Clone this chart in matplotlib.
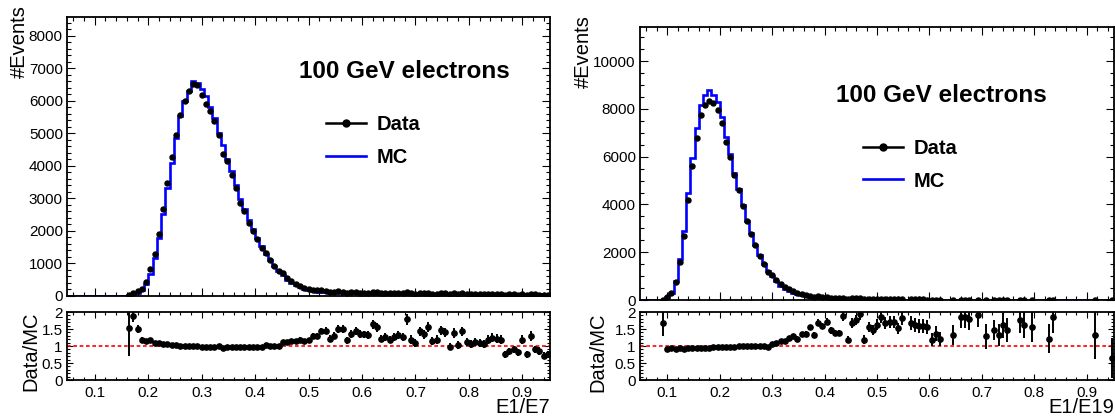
import numpy as np
import matplotlib
matplotlib.use("Agg")
import matplotlib.pyplot as plt
from matplotlib.lines import Line2D
from matplotlib.ticker import MultipleLocator, FormatStrFormatter

plt.rcParams["font.family"] = ["Liberation Sans", "DejaVu Sans"]

# Binning: 0.008 wide bins, the shown range is 0.048 - 0.952
BIN_LO = 0.048
BIN_HI = 0.952
N_BINS = 113

nan = np.nan

# E1/E7 (left) - MC counts per bin
mc_e7 = [
    0, 0, 0, 0, 0, 0, 0, 0, 0, 0,
    0, 0, 0, 10, 27, 42, 94, 188, 375, 690,
    1180, 1770, 2520, 3310, 4100, 4850, 5520, 5990, 6300, 6600,
    6540, 6380, 6150, 5800, 5480, 5000, 4650, 4220, 3850, 3420,
    2980, 2680, 2340, 2050, 1780, 1530, 1300, 1100, 920, 770,
    630, 500, 405, 330, 265, 215, 175, 148, 130, 118,
    108, 101, 96, 92, 88, 85, 82, 80, 78, 76,
    75, 73, 72, 71, 70, 69, 68, 68, 67, 66,
    66, 65, 64, 64, 63, 63, 62, 62, 61, 61,
    60, 60, 59, 59, 58, 58, 58, 57, 57, 57,
    56, 56, 56, 55, 55, 55, 54, 54, 54, 53,
    53, 53, 52,
]
# Data/MC ratio and its error
ratio_e7 = [
    nan, nan, nan, nan, nan, nan, nan, nan, nan, nan,
    nan, nan, nan, nan, 1.54, 1.89, 1.49, 1.19, 1.14, 1.19,
    1.09, 1.08, 1.06, 1.05, 1.04, 1.02, 1.01, 1.00, 1.00, 0.99,
    0.99, 0.97, 0.96, 0.98, 0.98, 0.99, 0.94, 0.98, 0.97, 0.97,
    0.96, 0.97, 0.96, 0.97, 0.98, 0.96, 1.02, 1.01, 1.01, 1.00,
    1.11, 1.12, 1.16, 1.16, 1.19, 1.14, 1.17, 1.29, 1.30, 1.45,
    1.45, 1.22, 1.30, 1.50, 1.50, 1.17, 1.36, 1.45, 1.36, 1.34,
    1.32, 1.64, 1.55, 1.22, 1.26, 1.19, 1.27, 1.33, 1.27, 1.78,
    1.19, 1.10, 1.43, 1.34, 1.56, 1.14, 1.19, 1.46, 1.40, 0.98,
    1.38, 1.02, 1.43, 1.12, 1.05, 1.12, 1.10, 1.05, 1.19, 1.24,
    1.22, 1.19, 0.76, 0.84, 0.90, 0.81, 1.19, 0.76, 1.29, 0.90,
    0.86, 0.71, 0.76,
]
ratio_err_e7 = [
    0, 0, 0, 0, 0, 0, 0, 0, 0, 0,
    0, 0, 0, 0, 0.84, 0.17, 0.12, 0.07, 0.05, 0.04,
    0.03, 0.03, 0.02, 0.02, 0.02, 0.02, 0.02, 0.02, 0.02, 0.02,
    0.02, 0.02, 0.02, 0.02, 0.02, 0.02, 0.02, 0.02, 0.02, 0.02,
    0.02, 0.02, 0.02, 0.02, 0.03, 0.03, 0.03, 0.03, 0.04, 0.04,
    0.05, 0.05, 0.06, 0.06, 0.07, 0.07, 0.08, 0.08, 0.09, 0.09,
    0.10, 0.10, 0.10, 0.11, 0.11, 0.10, 0.11, 0.12, 0.11, 0.11,
    0.11, 0.13, 0.13, 0.11, 0.12, 0.11, 0.12, 0.12, 0.12, 0.15,
    0.12, 0.12, 0.14, 0.13, 0.14, 0.12, 0.12, 0.14, 0.14, 0.11,
    0.14, 0.12, 0.14, 0.12, 0.12, 0.12, 0.12, 0.12, 0.13, 0.13,
    0.13, 0.13, 0.10, 0.11, 0.11, 0.11, 0.13, 0.10, 0.14, 0.11,
    0.11, 0.10, 0.10,
]

# E1/E19 (right)
mc_e19 = [
    0, 0, 0, 0, 0, 7, 120, 300, 800, 1700,
    2900, 4500, 5950, 7200, 8150, 8580, 8790, 8580, 8300, 7640,
    6830, 6100, 5320, 4650, 3960, 3300, 2800, 2300, 1880, 1520,
    1230, 1000, 780, 600, 480, 380, 300, 240, 190, 150,
    120, 100, 88, 78, 70, 63, 57, 52, 48, 44,
    41, 38, 35, 33, 31, 29, 27, 25, 24, 22,
    21, 20, 19, 18, 17, 16, 15, 14, 14, 13,
    12, 12, 11, 11, 10, 10, 9, 9, 9, 8,
    8, 8, 7, 7, 7, 6, 6, 6, 6, 5,
    5, 5, 5, 5, 4, 4, 4, 4, 4, 4,
    4, 3, 3, 3, 3, 3, 3, 3, 3, 3,
    3, 3, 3,
]
ratio_e19 = [
    nan, nan, nan, nan, nan, 1.68, 0.92, 0.93, 0.92, 0.93,
    0.92, 0.93, 0.94, 0.94, 0.95, 0.95, 0.95, 0.96, 0.96, 0.97,
    0.97, 0.98, 0.98, 0.99, 0.99, 1.00, 0.99, 1.00, 0.99, 1.00,
    0.97, 1.05, 1.08, 1.15, 1.16, 1.24, 1.29, 1.22, 1.35, 1.36,
    1.55, 1.33, 1.69, 1.60, 1.71, 1.46, 1.38, 1.38, 1.88, 1.19,
    1.67, 1.76, 1.93, 1.19, 1.57, 1.48, 1.62, 1.86, 1.67, 1.71,
    1.71, 1.52, 1.81, nan, 1.67, 1.62, 1.59, 1.59, 1.55, 1.19,
    1.36, 1.21, nan, nan, 1.33, nan, 1.86, 1.86, 1.79, nan,
    1.92, nan, 1.28, nan, 1.47, 1.33, 1.61, 1.47, nan, nan,
    1.77, 1.61, nan, 1.56, nan, nan, nan, 1.21, 1.84, nan,
    nan, nan, nan, nan, nan, nan, nan, nan, 1.33, nan,
    nan, nan, 0.65,
]
ratio_err_e19 = [
    0, 0, 0, 0, 0, 0.39, 0.06, 0.04, 0.03, 0.02,
    0.02, 0.02, 0.02, 0.02, 0.02, 0.02, 0.02, 0.02, 0.02, 0.02,
    0.02, 0.02, 0.02, 0.02, 0.02, 0.02, 0.02, 0.02, 0.02, 0.02,
    0.03, 0.03, 0.04, 0.04, 0.05, 0.05, 0.06, 0.06, 0.07, 0.07,
    0.08, 0.08, 0.09, 0.09, 0.10, 0.10, 0.10, 0.10, 0.13, 0.10,
    0.14, 0.15, 0.16, 0.12, 0.15, 0.15, 0.16, 0.18, 0.17, 0.18,
    0.18, 0.17, 0.20, 0, 0.20, 0.20, 0.21, 0.21, 0.21, 0.19,
    0.22, 0.21, 0, 0, 0.30, 0, 0.33, 0.33, 0.33, 0,
    0.35, 0, 0.36, 0, 0.30, 0.32, 0.36, 0.34, 0, 0,
    0.40, 0.38, 0, 0.44, 0, 0, 0, 0.43, 0.45, 0,
    0, 0, 0, 0, 0, 0, 0, 0, 0.72, 0,
    0, 0, 0.60,
]

TITLE = "100 GeV electrons"


def style_axes(ax, tick_len):
    ax.tick_params(which="both", direction="in", top=True, right=True,
                   labelsize=11, width=0.8, pad=3)
    ax.tick_params(which="major", length=tick_len)
    ax.tick_params(which="minor", length=tick_len / 2)
    for sp in ax.spines.values():
        sp.set_linewidth(1.3)


def draw_panel(fig, main_rect, ratio_rect, mc, ratio, ratio_err, xlabel,
               ymajor, yminor, text_pos, legend_pos, ylab_x, rlab_x, rlab_y):
    edges = np.linspace(BIN_LO, BIN_HI, N_BINS + 1)
    centers = 0.5 * (edges[:-1] + edges[1:])
    mc = np.array(mc, dtype=float)
    ratio = np.array(ratio, dtype=float)
    err = np.array(ratio_err, dtype=float)
    data = mc * ratio

    # main histogram
    ax = fig.add_axes(main_rect)
    ax.stairs(mc, edges, color="blue", lw=1.9, zorder=2)
    ax.plot(centers, data, "o", color="black", ms=3.6, zorder=3)
    ax.set_xlim(BIN_LO, BIN_HI)
    ax.set_ylim(0, 1.3 * mc.max())
    ax.xaxis.set_major_locator(MultipleLocator(0.1))
    ax.xaxis.set_minor_locator(MultipleLocator(0.02))
    ax.yaxis.set_major_locator(MultipleLocator(ymajor))
    ax.yaxis.set_minor_locator(MultipleLocator(yminor))
    style_axes(ax, 5.8)
    ax.tick_params(labelbottom=False)
    ax.set_ylabel("#Events", fontsize=14.5, loc="top")
    ax.yaxis.set_label_coords(ylab_x, 1.043)

    ax.text(text_pos[0], text_pos[1], TITLE, transform=ax.transAxes,
            fontsize=17.5, fontweight="bold", va="center", ha="left")

    handles = [Line2D([], [], color="black", marker="o", ms=5, lw=1.8),
               Line2D([], [], color="blue", lw=1.9)]
    ax.legend(handles, ["Data", "MC"], loc="upper left",
              bbox_to_anchor=legend_pos, frameon=False,
              prop={"weight": "bold", "size": 14.5}, handlelength=2.0,
              handletextpad=0.5, labelspacing=0.66, borderpad=0,
              borderaxespad=0)

    # ratio pad
    rx = fig.add_axes(ratio_rect)
    ok = ~np.isnan(ratio)
    rx.errorbar(centers[ok], ratio[ok], yerr=err[ok], fmt="o", color="black",
                ms=3.8, elinewidth=1.4, capsize=0, zorder=3)
    rx.axhline(1.0, color="red", lw=1.2, ls=(0, (2.2, 1.6)), zorder=2)
    rx.set_xlim(BIN_LO, BIN_HI)
    rx.set_ylim(0, 2)
    rx.xaxis.set_major_locator(MultipleLocator(0.1))
    rx.xaxis.set_minor_locator(MultipleLocator(0.02))
    rx.yaxis.set_major_locator(MultipleLocator(0.5))
    rx.yaxis.set_minor_locator(MultipleLocator(0.1))
    rx.xaxis.set_major_formatter(FormatStrFormatter("%g"))
    rx.yaxis.set_major_formatter(FormatStrFormatter("%g"))
    style_axes(rx, 4.5)
    rx.tick_params(axis="x", pad=4.5)
    rx.set_ylabel("Data/MC", fontsize=14.5)
    rx.yaxis.set_label_coords(rlab_x, rlab_y)
    rx.set_xlabel(xlabel, fontsize=14.5, loc="right")
    rx.xaxis.set_label_coords(1.0, -0.27)


fig = plt.figure(figsize=(11.15, 4.16), dpi=100)

draw_panel(fig, [0.0601, 0.2885, 0.4332, 0.6707],
           [0.0601, 0.0865, 0.4332, 0.1635],
           mc_e7, ratio_e7, ratio_err_e7, "E1/E7",
           1000, 200, (0.480, 0.806), (0.536, 0.647), -0.078, -0.056, 0.43)

draw_panel(fig, [0.574, 0.2788, 0.4251, 0.6563],
           [0.574, 0.0865, 0.4251, 0.1635],
           mc_e19, ratio_e19, ratio_err_e19, "E1/E19",
           2000, 500, (0.4135, 0.750), (0.470, 0.589), -0.099, -0.068, 0.41)

fig.savefig("out.png", dpi=100)
